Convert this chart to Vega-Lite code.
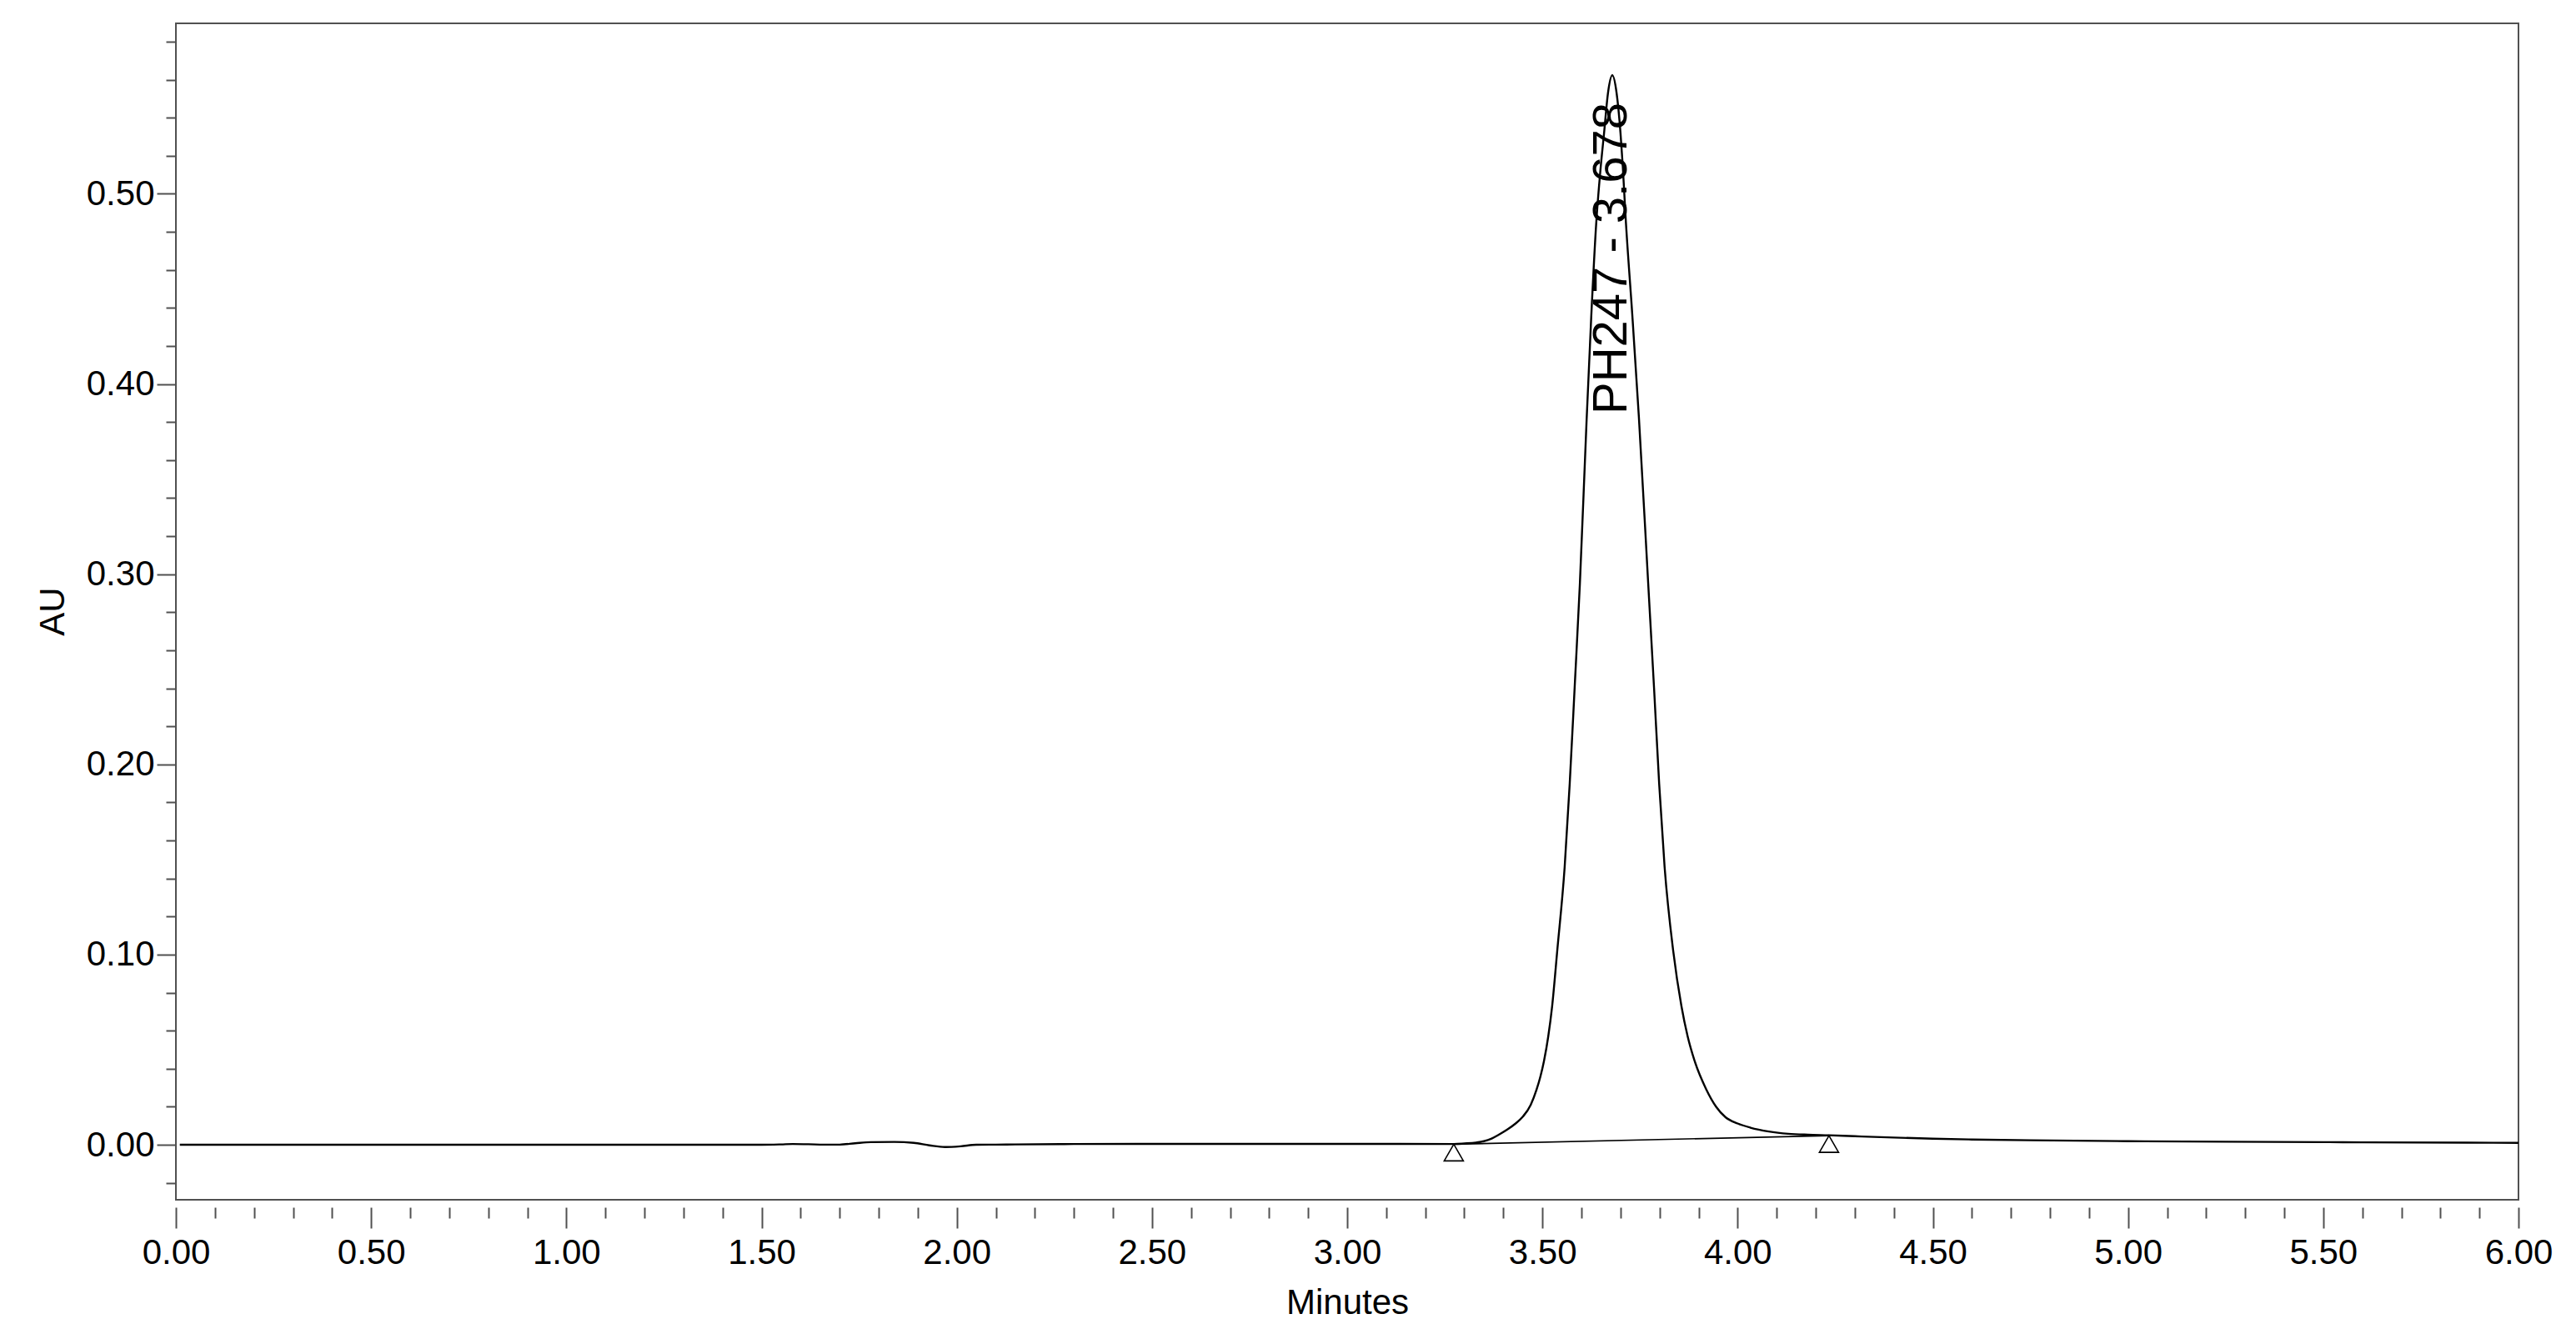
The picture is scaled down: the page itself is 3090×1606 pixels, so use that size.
{
  "$schema": "https://vega.github.io/schema/vega-lite/v6.json",
  "width": 2810,
  "height": 1411,
  "autosize": {"type": "none"},
  "padding": {"left": 211, "top": 28, "right": 69, "bottom": 167},
  "background": "white",
  "config": {
    "view": {"stroke": "#505050", "strokeWidth": 2},
    "font": "Liberation Sans",
    "axis": {
      "labelFont": "Liberation Sans",
      "titleFont": "Liberation Sans",
      "labelColor": "#000000",
      "titleColor": "#000000",
      "titleFontWeight": "normal",
      "labelFontSize": 42,
      "titleFontSize": 42,
      "tickColor": "#505050",
      "tickWidth": 2,
      "domain": false,
      "grid": false,
      "labelFlush": false,
      "labelOverlap": false,
      "labelBound": false
    }
  },
  "datasets": {
    "trace": [
      {"t": 0.01, "au": 0.0},
      {"t": 0.5, "au": 0.0},
      {"t": 1.0, "au": 0.0},
      {"t": 1.5, "au": 0.0},
      {"t": 1.55, "au": 0.0002},
      {"t": 1.58, "au": 0.0004},
      {"t": 1.62, "au": 0.0003},
      {"t": 1.66, "au": 0.0001},
      {"t": 1.7, "au": 0.0001},
      {"t": 1.74, "au": 0.0008},
      {"t": 1.78, "au": 0.0014},
      {"t": 1.84, "au": 0.0015},
      {"t": 1.89, "au": 0.001},
      {"t": 1.93, "au": -0.0003},
      {"t": 1.97, "au": -0.0012},
      {"t": 2.01, "au": -0.0008},
      {"t": 2.05, "au": 0.0},
      {"t": 2.1, "au": 0.0001},
      {"t": 2.15, "au": 0.0002},
      {"t": 2.3, "au": 0.0004},
      {"t": 2.5, "au": 0.0005},
      {"t": 3.0, "au": 0.0005},
      {"t": 3.273, "au": 0.0004},
      {"t": 3.3, "au": 0.0007},
      {"t": 3.33, "au": 0.0012},
      {"t": 3.35, "au": 0.0019},
      {"t": 3.37, "au": 0.0033},
      {"t": 3.39, "au": 0.0055},
      {"t": 3.41, "au": 0.008},
      {"t": 3.43, "au": 0.011},
      {"t": 3.45, "au": 0.0148},
      {"t": 3.47, "au": 0.021},
      {"t": 3.485, "au": 0.029},
      {"t": 3.495, "au": 0.036},
      {"t": 3.504, "au": 0.044},
      {"t": 3.515, "au": 0.057},
      {"t": 3.525, "au": 0.073},
      {"t": 3.538, "au": 0.102},
      {"t": 3.557, "au": 0.146},
      {"t": 3.57, "au": 0.19},
      {"t": 3.583, "au": 0.242},
      {"t": 3.596, "au": 0.295},
      {"t": 3.613, "au": 0.38},
      {"t": 3.625, "au": 0.435},
      {"t": 3.638, "au": 0.485},
      {"t": 3.648, "au": 0.511},
      {"t": 3.658, "au": 0.532},
      {"t": 3.668, "au": 0.553},
      {"t": 3.679, "au": 0.5623},
      {"t": 3.69, "au": 0.553},
      {"t": 3.7, "au": 0.532},
      {"t": 3.706, "au": 0.514},
      {"t": 3.713, "au": 0.488},
      {"t": 3.73, "au": 0.437},
      {"t": 3.747, "au": 0.383},
      {"t": 3.771, "au": 0.295},
      {"t": 3.786, "au": 0.24},
      {"t": 3.799, "au": 0.19},
      {"t": 3.813, "au": 0.146},
      {"t": 3.835, "au": 0.102},
      {"t": 3.856, "au": 0.073},
      {"t": 3.872, "au": 0.057},
      {"t": 3.89, "au": 0.044},
      {"t": 3.92, "au": 0.029},
      {"t": 3.945, "au": 0.02},
      {"t": 3.969, "au": 0.0145},
      {"t": 4.0, "au": 0.0112},
      {"t": 4.033, "au": 0.009},
      {"t": 4.08, "au": 0.007},
      {"t": 4.13, "au": 0.0058},
      {"t": 4.18, "au": 0.0053},
      {"t": 4.234, "au": 0.005},
      {"t": 4.3, "au": 0.0045},
      {"t": 4.4, "au": 0.0038},
      {"t": 4.5, "au": 0.0032},
      {"t": 4.6, "au": 0.0028},
      {"t": 4.75, "au": 0.0024},
      {"t": 5.0, "au": 0.0019},
      {"t": 5.25, "au": 0.0016},
      {"t": 5.5, "au": 0.0014},
      {"t": 5.6, "au": 0.0013},
      {"t": 5.87, "au": 0.0011},
      {"t": 6.0, "au": 0.001}
    ],
    "baseline": [
      {"t": 3.273, "au": 0.0003},
      {"t": 4.234, "au": 0.0048}
    ],
    "markers": [
      {"t": 3.273, "au": -0.0041},
      {"t": 4.234, "au": 0.0004}
    ],
    "peaklabel": [
      {"t": 3.678, "au": 0.384, "label": "PH247 - 3.678"}
    ]
  },
  "layer": [
    {
      "data": {"name": "trace"},
      "mark": {"type": "line", "interpolate": "monotone", "color": "#000000", "strokeWidth": 2.4},
      "encoding": {
        "x": {
          "field": "t", "type": "quantitative",
          "scale": {"domain": [0, 6], "nice": false, "zero": false},
          "axis": {
            "orient": "bottom",
            "values": [0, 0.5, 1, 1.5, 2, 2.5, 3, 3.5, 4, 4.5, 5, 5.5, 6],
            "format": ".2f",
            "tickSize": 25,
            "offset": 9,
            "labelPadding": 9,
            "title": "Minutes",
            "titleY": 127,
            "titleBaseline": "alphabetic"
          }
        },
        "y": {
          "field": "au", "type": "quantitative",
          "scale": {"domain": [-0.0289, 0.5896], "nice": false, "zero": false},
          "axis": {
            "orient": "left",
            "values": [0, 0.1, 0.2, 0.3, 0.4, 0.5],
            "format": ".2f",
            "tickSize": 23,
            "labelPadding": 3,
            "title": "AU",
            "titleX": -135,
            "titleY": 705,
            "titleAngle": 270,
            "titleAlign": "center",
            "titleBaseline": "alphabetic"
          }
        }
      }
    },
    {
      "data": {"name": "baseline"},
      "mark": {"type": "line", "color": "#000000", "strokeWidth": 1.7},
      "encoding": {
        "x": {
          "field": "t", "type": "quantitative",
          "axis": {
            "orient": "bottom",
            "values": [0.1, 0.2, 0.3, 0.4, 0.6, 0.7, 0.8, 0.9, 1.1, 1.2, 1.3, 1.4, 1.6, 1.7, 1.8, 1.9, 2.1, 2.2, 2.3, 2.4, 2.6, 2.7, 2.8, 2.9, 3.1, 3.2, 3.3, 3.4, 3.6, 3.7, 3.8, 3.9, 4.1, 4.2, 4.3, 4.4, 4.6, 4.7, 4.8, 4.9, 5.1, 5.2, 5.3, 5.4, 5.6, 5.7, 5.8, 5.9],
            "tickSize": 13,
            "offset": 9,
            "labels": false,
            "title": null
          }
        },
        "y": {
          "field": "au", "type": "quantitative",
          "axis": {
            "orient": "left",
            "values": [-0.02, 0.02, 0.04, 0.06, 0.08, 0.12, 0.14, 0.16, 0.18, 0.22, 0.24, 0.26, 0.28, 0.32, 0.34, 0.36, 0.38, 0.42, 0.44, 0.46, 0.48, 0.52, 0.54, 0.56, 0.58],
            "tickSize": 12,
            "labels": false,
            "title": null
          }
        }
      }
    },
    {
      "data": {"name": "markers"},
      "mark": {"type": "point", "shape": "triangle-up", "filled": false, "size": 530, "color": "#000000", "strokeWidth": 1.6, "opacity": 1},
      "encoding": {
        "x": {"field": "t", "type": "quantitative", "axis": null},
        "y": {"field": "au", "type": "quantitative", "axis": null}
      }
    },
    {
      "data": {"name": "peaklabel"},
      "mark": {"type": "text", "angle": 270, "align": "left", "baseline": "middle", "fontSize": 58, "font": "Liberation Sans", "color": "#000000"},
      "encoding": {
        "x": {"field": "t", "type": "quantitative", "axis": null},
        "y": {"field": "au", "type": "quantitative", "axis": null},
        "text": {"field": "label", "type": "nominal"}
      }
    }
  ],
  "resolve": {"axis": {"x": "independent", "y": "independent"}}
}
